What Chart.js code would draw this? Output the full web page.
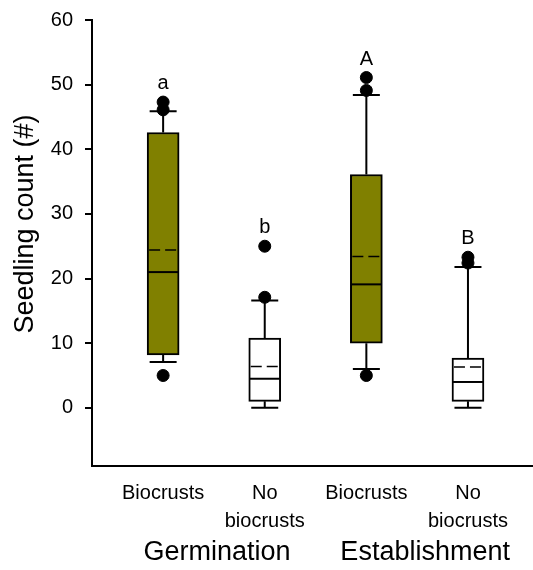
<!DOCTYPE html>
<html>
<head>
<meta charset="utf-8">
<script src="https://cdn.jsdelivr.net/npm/chart.js@4.4.0/dist/chart.umd.min.js"></script>
<style>
  html, body { margin: 0; padding: 0; background: #fff; overflow: hidden; }
  #wrap { width: 533px; height: 570px; }
  #grafico { display: block; }
</style>
</head>
<body>
<div id="wrap"><canvas id="grafico" width="533" height="570"></canvas></div>
<script>
// --- datos ---
const grupos = ["Germination", "Establishment"];
const categorias = [["Biocrusts"], ["No", "biocrusts"], ["Biocrusts"], ["No", "biocrusts"]];
const colores = ["#808000", "#ffffff", "#808000", "#ffffff"];
const q1 = [8.2, 1.0, 10.0, 1.0];
const q3 = [42.6, 10.8, 36.1, 7.7];
const medianas = [21.0, 4.5, 19.1, 4.0];
const medias = [24.4, 6.4, 23.4, 6.3];
const bigoteBajo = [7.1, 0, 6.0, 0];
const bigoteAlto = [45.9, 16.6, 48.4, 21.8];
const atipicos = [[5.0, 46.1, 47.3], [17.1, 25.0], [5.0, 49.1, 51.1], [22.4, 23.3]];
const letras = ["a", "b", "A", "B"];
const ticksY = [0, 10, 20, 30, 40, 50, 60];

const fuente = "'Liberation Sans', Arial, sans-serif";
const anchoCaja = 32;
const anchoTope = 27;

// bigotes y topes (debajo de los puntos)
const pluginBigotes = {
  id: "bigotes",
  beforeDatasetsDraw(chart) {
    const ctx = chart.ctx;
    const x = chart.scales.x, y = chart.scales.y;
    ctx.save();
    ctx.strokeStyle = "#000";
    ctx.lineWidth = 2;
    q1.forEach((v, i) => {
      const cx = x.getPixelForValue(i + 1);
      const pares = [[bigoteBajo[i], v], [bigoteAlto[i], q3[i]]];
      pares.forEach(([extremo, borde]) => {
        const ye = y.getPixelForValue(extremo);
        ctx.beginPath();
        ctx.moveTo(cx, ye);
        ctx.lineTo(cx, y.getPixelForValue(borde));
        ctx.moveTo(cx - anchoTope / 2, ye);
        ctx.lineTo(cx + anchoTope / 2, ye);
        ctx.stroke();
      });
    });
    ctx.restore();
  },
  afterDatasetsDraw(chart) {
    const ctx = chart.ctx;
    const x = chart.scales.x, y = chart.scales.y;
    ctx.save();
    ctx.strokeStyle = "#000";
    medianas.forEach((m, i) => {
      const cx = x.getPixelForValue(i + 1);
      const izq = cx - anchoCaja / 2 + 1, der = cx + anchoCaja / 2 - 1;
      // mediana
      ctx.lineWidth = 2;
      ctx.setLineDash([]);
      ctx.beginPath();
      ctx.moveTo(izq, y.getPixelForValue(m));
      ctx.lineTo(der, y.getPixelForValue(m));
      ctx.stroke();
      // media (discontinua)
      ctx.lineWidth = 1.5;
      ctx.setLineDash([11, 5]);
      ctx.beginPath();
      ctx.moveTo(izq + 1, y.getPixelForValue(medias[i]));
      ctx.lineTo(der, y.getPixelForValue(medias[i]));
      ctx.stroke();
    });
    ctx.setLineDash([]);

    // letras de significancia
    ctx.fillStyle = "#000";
    ctx.font = "20px " + fuente;
    ctx.textAlign = "center";
    ctx.textBaseline = "alphabetic";
    letras.forEach((l, i) => {
      const tope = Math.max(bigoteAlto[i], ...atipicos[i]);
      ctx.fillText(l, x.getPixelForValue(i + 1), y.getPixelForValue(tope) - 13);
    });

    // nombres de grupo
    ctx.font = "27px " + fuente;
    ctx.textBaseline = "middle";
    grupos.forEach((g, k) => {
      const cx = (x.getPixelForValue(2 * k + 1) + x.getPixelForValue(2 * k + 2)) / 2;
      ctx.fillText(g, cx + 3 + 5 * k, 553);
    });

    // titulo eje y
    ctx.save();
    ctx.translate(26, 224);
    ctx.rotate(-Math.PI / 2);
    ctx.fillText("Seedling count (#)", 0, 0);
    ctx.restore();
    ctx.restore();
  }
};

const ctx = document.getElementById("grafico").getContext("2d");

new Chart(ctx, {
  type: "bar",
  data: {
    datasets: [
      {
        type: "bar",
        data: q1.map((v, i) => ({ x: i + 1, y: [v, q3[i]] })),
        backgroundColor: colores,
        borderColor: "#000",
        borderWidth: 2,
        borderSkipped: false,
        barThickness: anchoCaja
      },
      {
        type: "scatter",
        data: atipicos.flatMap((lista, i) => lista.map(v => ({ x: i + 1, y: v }))),
        backgroundColor: "#000",
        borderColor: "#000",
        pointRadius: 6,
        showLine: false
      }
    ]
  },
  options: {
    responsive: false,
    animation: false,
    layout: { autoPadding: false, padding: { top: 20, left: 0, right: 0, bottom: 0 } },
    plugins: {
      legend: { display: false },
      tooltip: { enabled: false }
    },
    scales: {
      x: {
        type: "linear",
        offset: false,
        min: 0.3,
        max: 4.64,
        grid: { display: false },
        border: { display: true, color: "#000", width: 2 },
        afterBuildTicks(scale) {
          scale.ticks = categorias.map((c, i) => ({ value: i + 1 }));
        },
        afterFit(scale) {
          scale.height = 104;
          scale.paddingLeft = 0;
          scale.paddingRight = 0;
        },
        ticks: {
          color: "#000",
          font: { size: 20, family: fuente, lineHeight: 1.4 },
          padding: 5,
          maxRotation: 0,
          autoSkip: false,
          callback: v => categorias[v - 1]
        }
      },
      y: {
        min: -9,
        max: 60,
        grid: { drawOnChartArea: false, drawTicks: true, tickLength: 7, color: "#000", lineWidth: 2 },
        border: { display: true, color: "#000", width: 2 },
        afterBuildTicks(scale) {
          scale.ticks = ticksY.map(v => ({ value: v }));
        },
        afterFit(scale) {
          scale.width = 92;
          scale.paddingTop = 0;
          scale.paddingBottom = 0;
        },
        ticks: {
          color: "#000",
          font: { size: 20, family: fuente },
          padding: 12
        }
      }
    }
  },
  plugins: [pluginBigotes]
});
</script>
</body>
</html>
